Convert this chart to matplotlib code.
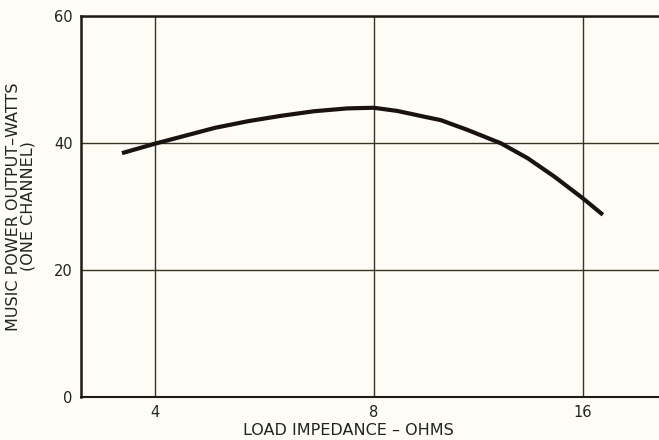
import numpy as np
import matplotlib.pyplot as plt
from matplotlib.ticker import FixedLocator, NullLocator

# Potência musical (um canal) em função da impedância de carga
impedancia = [3.60, 4.0, 4.35, 4.84, 5.38, 5.98, 6.62, 7.36, 8.0, 8.65, 9.45,
              9.99, 10.92, 12.19, 13.32, 14.55, 15.98, 17.08]
potencia = [38.4, 39.9, 41.0, 42.4, 43.45, 44.3, 45.0, 45.45, 45.55, 45.05, 44.15,
            43.6, 42.05, 39.95, 37.6, 34.7, 31.3, 28.7]

xticks = [4, 8, 16]
yticks = [0, 20, 40, 60]

cor_grade = '#3a3322'
cor_curva = '#1a1210'
cor_texto = '#222222'
fundo = '#fdfdf6'


# escala log2 por trechos: a oitava 4-8 é um pouco mais larga que a 8-16 no papel
def escala_ida(x):
    lx = np.log2(np.clip(x, 1e-6, None))
    return np.where(lx < 3, (lx - 2) * 218.0, 218.0 + (lx - 3) * 209.0)


def escala_volta(u):
    u = np.asarray(u, dtype=float)
    return np.where(u < 218.0, 2 ** (2 + u / 218.0), 2 ** (3 + (u - 218.0) / 209.0))


fig = plt.figure(figsize=(6.59, 4.40), dpi=100, facecolor=fundo)
ax = fig.add_axes([81 / 659, 1 - 397 / 440, 1 - 81 / 659 + 0.002, (397 - 16) / 440])
ax.set_facecolor(fundo)

ax.set_xscale('function', functions=(escala_ida, escala_volta))
ax.set_xlim(float(escala_volta(-74.0)), float(escala_volta(578.0 - 74.0)))
ax.set_ylim(0, 60)

ax.xaxis.set_major_locator(FixedLocator(xticks))
ax.xaxis.set_minor_locator(NullLocator())
ax.set_xticklabels([str(t) for t in xticks])
ax.yaxis.set_major_locator(FixedLocator(yticks))
ax.set_yticklabels([str(t) for t in yticks])

ax.grid(True, which='major', color=cor_grade, linewidth=1.0)
ax.tick_params(length=0, labelsize=10.5, colors=cor_texto, pad=6)

ax.spines['right'].set_visible(False)
ax.spines['left'].set_linewidth(1.8)
ax.spines['bottom'].set_linewidth(1.5)
ax.spines['top'].set_linewidth(1.8)
for lado in ['left', 'bottom', 'top']:
    ax.spines[lado].set_color('#1e1a14')

ax.plot(impedancia, potencia, color=cor_curva, linewidth=3.0,
        solid_capstyle='butt', solid_joinstyle='round', zorder=3)

ax.set_ylabel('MUSIC POWER OUTPUT–WATTS\n(ONE CHANNEL)', fontsize=11.5,
              color=cor_texto, linespacing=1.0)
ax.yaxis.set_label_coords(-0.078, 0.5)
ax.set_xlabel('LOAD IMPEDANCE – OHMS', fontsize=11.5, color=cor_texto)
ax.xaxis.set_label_coords((348 - 81) / 578, -0.068)

fig.savefig('out.png', dpi=100, facecolor=fundo)
